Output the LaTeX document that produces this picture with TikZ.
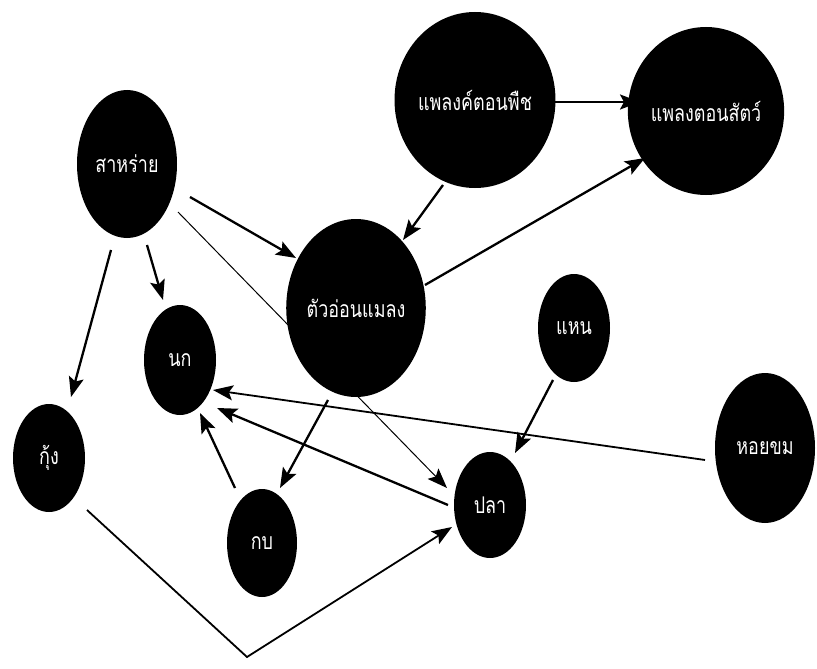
\documentclass[tikz,border=0pt]{standalone}
\usepackage{fontspec}
\newfontfamily\thaifont[Script=Thai,FakeStretch=0.78]{Loma}
\usetikzlibrary{shapes.geometric,arrows.meta,calc}
\begin{document}
\begin{tikzpicture}[x=1pt,y=-1pt,
  blob/.style={ellipse,fill=black,draw=none,inner sep=0pt,text=white,font=\thaifont\fontsize{23}{23}\selectfont},
  link/.style={line width=2.3pt,-{Stealth[length=20pt,width=15pt,inset=4pt]}},
  thinlink/.style={line width=1pt,-{Stealth[length=20pt,width=15pt,inset=4pt]}}]
\useasboundingbox[fill=white] (0,0) rectangle (817,669);
\node[blob,minimum width=120pt,minimum height=176pt] (pp) at (475,100) {แพลงค์ตอนพืช};
\node[blob,minimum width=122pt,minimum height=168pt] (zp) at (706,111) {แพลงตอนสัตว์};
\node[blob,minimum width=100pt,minimum height=148pt] (algae) at (127,164) {สาหร่าย};
\node[blob,minimum width=118pt,minimum height=178pt] (larva) at (356,308) {ตัวอ่อนแมลง};
\node[blob,minimum width=72pt,minimum height=110pt] (bird) at (180,360) {นก};
\node[blob,minimum width=72pt,minimum height=108pt] (shrimp) at (49,458) {กุ้ง};
\node[blob,minimum width=70pt,minimum height=108pt] (frog) at (262,543) {กบ};
\node[blob,minimum width=72pt,minimum height=106pt] (fish) at (490,505) {ปลา};
\node[blob,minimum width=72pt,minimum height=108pt] (weed) at (574,328) {แหน};
\node[blob,minimum width=100pt,minimum height=150pt] (snail) at (765,448) {หอยขม};
\coordinate (bend) at (247,657);
\draw[link] ($(pp)+(70,2)$) -- ($(zp)+(-66,-9)$);
\draw[link] ($(larva)+(69,-23)$) -- ($(zp)+(-61,47)$);
\draw[link] ($(pp)+(-32,85)$) -- ($(larva)+(47,-68)$);
\draw[link] ($(algae)+(63,33)$) -- ($(larva)+(-60,-50)$);
\draw[link] ($(algae)+(20,81)$) -- ($(bird)+(-17,-60)$);
\draw[link] ($(algae)+(-16,86)$) -- ($(shrimp)+(22,-61)$);
\draw[thinlink] ($(algae)+(51,48)$) -- ($(fish)+(-43,-17)$);
\draw[link] ($(larva)+(-28,92)$) -- ($(frog)+(18,-55)$);
\draw[link] ($(frog)+(-27,-55)$) -- ($(bird)+(20,53)$);
\draw[link] ($(fish)+(-42,0)$) -- ($(bird)+(37,48)$);
\draw[link,line width=1.8pt] ($(snail)+(-60,12)$) -- ($(bird)+(33,30)$);
\draw[link] ($(weed)+(-21,52)$) -- ($(fish)+(25,-52)$);
\draw[link,line width=1.8pt] ($(shrimp)+(38,52)$) -- (bend) -- ($(fish)+(-38,22)$);
\end{tikzpicture}
\end{document}
